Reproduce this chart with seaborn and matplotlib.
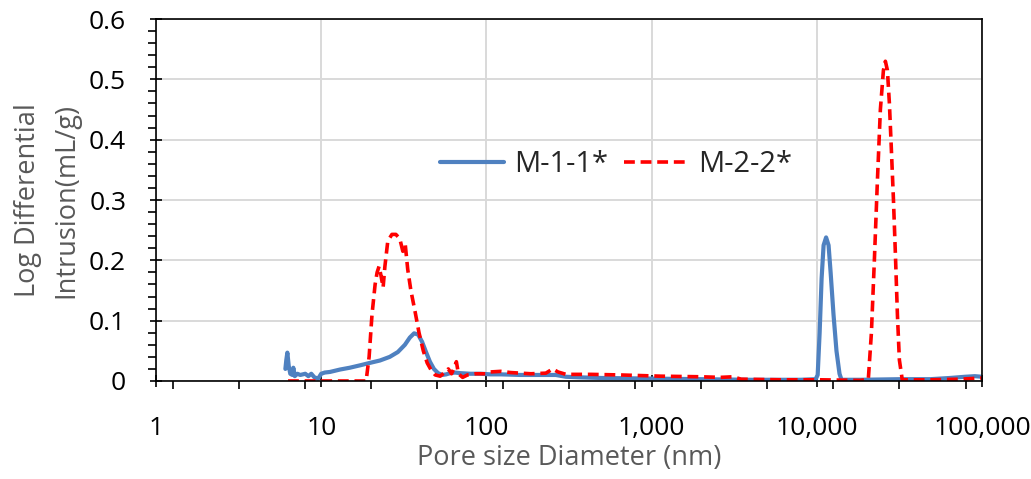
import numpy as np
import pandas as pd
import matplotlib
matplotlib.use("Agg")
import matplotlib.pyplot as plt
import matplotlib.ticker as mticker
import seaborn as sns

# Pore size distribution (MIP) for two samples
m11_diam = [6.07, 6.15, 6.24, 6.36, 6.50, 6.69, 6.78, 6.92, 7.17, 7.47, 8.01, 8.36, 8.71, 9.1, 9.59,
            10.0, 10.5, 11.3, 13.0, 14.9, 17.2, 19.7, 22.7, 26.0, 29.1, 32.1, 34.4, 36.5, 38.6, 40.8,
            43.1, 45.5, 48.1, 51.0, 54.0, 57.1, 60.3, 64.6, 69.5, 80, 92, 106, 122, 161, 214, 263,
            303, 373, 494, 990, 1990, 3970, 7980, 9840, 10120, 10400, 10690, 10990, 11380, 11780,
            12120, 12620, 13150, 13720, 14110, 18350, 32000, 48500, 63900, 78800, 90400, 100000]
m11_value = [0.020, 0.035, 0.047, 0.025, 0.012, 0.010, 0.022, 0.008, 0.012, 0.010, 0.012, 0.008, 0.012,
             0.006, 0.004, 0.012, 0.014, 0.015, 0.019, 0.022, 0.026, 0.030, 0.034, 0.040, 0.048, 0.060,
             0.072, 0.079, 0.077, 0.065, 0.048, 0.032, 0.020, 0.013, 0.010, 0.011, 0.013, 0.014, 0.013,
             0.012, 0.012, 0.011, 0.011, 0.010, 0.010, 0.010, 0.007, 0.006, 0.005, 0.004, 0.003, 0.002,
             0.002, 0.003, 0.010, 0.080, 0.170, 0.225, 0.238, 0.225, 0.180, 0.110, 0.050, 0.012, 0.002,
             0.002, 0.003, 0.003, 0.005, 0.007, 0.008, 0.007]

m22_diam = [6.3, 8.0, 10.0, 14.0, 18.7, 19.5, 20.3, 21.2, 21.8, 22.4, 23.0, 23.7, 24.3, 25.3, 26.8,
            28.3, 29.9, 31.2, 32.3, 33.4, 34.9, 37.0, 39.1, 41.5, 43.8, 46.3, 49.0, 52.5, 56.4, 58.8,
            61.5, 63.9, 65.8, 67.7, 71.8, 76.8, 86, 99, 106, 122, 140, 161, 186, 229, 252, 271,
            303, 430, 652, 1135, 1990, 2610, 3110, 3480, 6060, 10550, 18350, 20500, 21400, 22300,
            23250, 24250, 25300, 26000, 26750, 27500, 28300, 29100, 29900, 30750, 31600, 32900,
            48500, 73500, 100000]
m22_value = [0.0, 0.0, 0.0, 0.0, 0.0, 0.040, 0.110, 0.160, 0.180, 0.190, 0.175, 0.155, 0.190, 0.232,
             0.243, 0.243, 0.236, 0.215, 0.225, 0.185, 0.150, 0.115, 0.080, 0.050, 0.030, 0.018, 0.010,
             0.008, 0.015, 0.020, 0.012, 0.022, 0.032, 0.012, 0.006, 0.010, 0.012, 0.012, 0.015, 0.016,
             0.014, 0.013, 0.012, 0.013, 0.020, 0.015, 0.011, 0.011, 0.010, 0.008, 0.007, 0.006, 0.007,
             0.003, 0.002, 0.002, 0.001, 0.003, 0.080, 0.200, 0.330, 0.450, 0.515, 0.530, 0.515, 0.460,
             0.380, 0.300, 0.210, 0.110, 0.035, 0.002, 0.002, 0.003, 0.005]

series_names = ["M-1-1*", "M-2-2*"]
x_ticks = [1, 10, 100, 1000, 10000, 100000]
x_tick_labels = ["1", "10", "100", "1,000", "10,000", "100,000"]
y_ticks = [0, 0.1, 0.2, 0.3, 0.4, 0.5, 0.6]
y_tick_labels = ["0", "0.1", "0.2", "0.3", "0.4", "0.5", "0.6"]

sns.set_theme(style="white")
plt.rcParams["font.family"] = ["Open Sans", "DejaVu Sans"]

df = pd.concat([
    pd.DataFrame({"diameter": m11_diam, "value": m11_value, "sample": series_names[0]}),
    pd.DataFrame({"diameter": m22_diam, "value": m22_value, "sample": series_names[1]}),
], ignore_index=True)

blue = "#4F81C0"
red = "#FF0000"

fig = plt.figure(figsize=(10.31, 4.79), dpi=100)
ax = fig.add_axes([0.1513, 0.2046, 0.8012, 0.7557])

sns.lineplot(data=df, x="diameter", y="value", hue="sample", style="sample",
             palette={series_names[0]: blue, series_names[1]: red},
             dashes={series_names[0]: "", series_names[1]: (3.0, 1.6)},
             sort=False, estimator=None, ax=ax, legend=False)
for line, lw in zip(ax.lines, [3.0, 2.6]):
    line.set_linewidth(lw)
    line.set_solid_capstyle("round")

ax.set_xscale("log")
ax.set_xlim(1, 100000)
ax.set_ylim(0, 0.6)

ax.xaxis.set_major_locator(mticker.FixedLocator(x_ticks))
ax.xaxis.set_major_formatter(mticker.FixedFormatter(x_tick_labels))
ax.xaxis.set_minor_locator(mticker.FixedLocator(10 ** (0.1 + 0.4 * np.arange(13))))
ax.xaxis.set_minor_formatter(mticker.NullFormatter())
ax.set_yticks(y_ticks)
ax.set_yticklabels(y_tick_labels)
ax.yaxis.set_minor_locator(mticker.MultipleLocator(0.02))

ax.grid(True, which="major", color="#D9D9D9", linewidth=1.4)
ax.set_axisbelow(True)
for sp in ax.spines.values():
    sp.set_visible(True)
    sp.set_color("black")
    sp.set_linewidth(1.2)

ax.tick_params(axis="x", which="major", direction="inout", length=9, width=1.2,
               colors="black", labelsize=19, pad=21, bottom=True)
ax.tick_params(axis="x", which="minor", direction="out", length=6, width=1.2,
               colors="black", bottom=True)
ax.tick_params(axis="y", which="major", direction="inout", length=9, width=1.2,
               colors="black", labelsize=19, pad=17, left=True)
ax.tick_params(axis="y", which="minor", direction="out", length=6, width=1.2,
               colors="black", left=True)

ax.set_xlabel("Pore size Diameter (nm)", fontsize=19.5, color="#595959", labelpad=2)
ax.set_ylabel("Log Differential\nIntrusion(mL/g)", fontsize=19.5, color="#595959",
              labelpad=6, linespacing=1.5)

handles = [
    plt.Line2D([], [], color=blue, lw=3.0),
    plt.Line2D([], [], color=red, lw=2.6, dashes=(3.0, 1.6)),
]
ax.legend(handles, series_names, loc="center", bbox_to_anchor=(0.557, 0.597),
          ncol=2, frameon=False, fontsize=21, handlelength=2.2,
          columnspacing=0.55, handletextpad=0.35)

fig.savefig("out.png", dpi=100)
